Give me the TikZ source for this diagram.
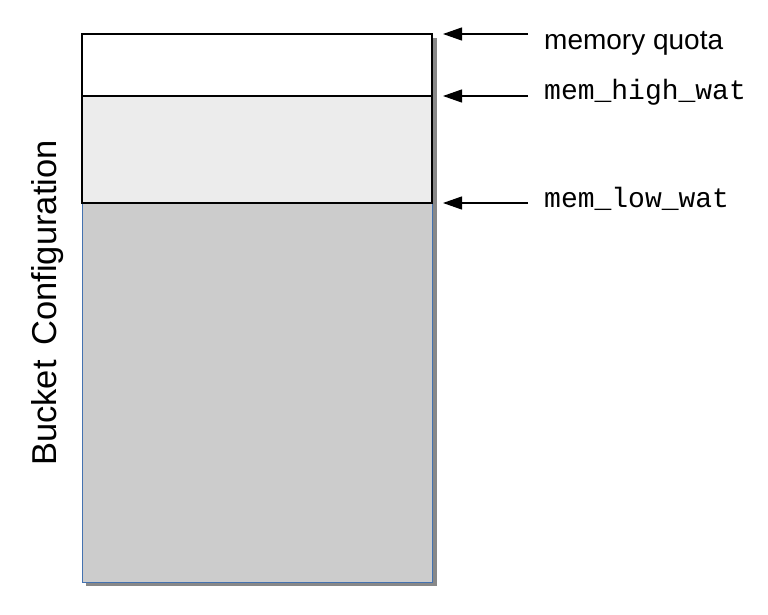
\documentclass[tikz,border=0pt]{standalone}
\usepackage{fontspec}
\setmainfont{Liberation Sans}
\setmonofont{Liberation Mono}
\usetikzlibrary{arrows.meta}
\definecolor{blueedge}{RGB}{68,114,176}
\definecolor{shadowgray}{RGB}{136,136,136}
\definecolor{lightfill}{RGB}{236,236,236}
\definecolor{midfill}{RGB}{204,204,204}
\begin{document}
\begin{tikzpicture}[x=1pt,y=-1pt,
  band/.style={draw=black,line width=1.4pt,minimum width=350pt,anchor=north west,inner sep=0pt,outer sep=0pt},
  pointer/.style={line width=1.2pt,-{Triangle[length=19pt,width=13pt]}},
  lbl/.style={anchor=base west,inner sep=0pt,font=\fontsize{28}{32}\selectfont},
  mono/.style={lbl,font=\fontsize{28}{32}\selectfont\ttfamily}]
\useasboundingbox (0,0) rectangle (768,615);
% shadow and outer box
\fill[shadowgray] (86,38) rectangle (437,586);
\node[draw=blueedge,fill=midfill,line width=1.4pt,minimum width=350pt,minimum height=548pt,anchor=north west,inner sep=0pt] (bucket) at (82,34) {};
\node[band,fill=white,minimum height=62pt] (quota) at (82,34) {};
\node[band,fill=lightfill,minimum height=107pt] (high) at (82,96) {};
% title
\node[rotate=90,anchor=base,inner sep=0pt,font=\fontsize{34.5}{38}\selectfont] (title) at (56.5,303) {Bucket\hspace{0.15em} Configuration};
% labels
\node[lbl] (lquota) at (544,50) {memory quota};
\node[mono] (lhigh) at (544,100) {mem\_high\_wat};
\node[mono] (llow) at (544,207) {mem\_low\_wat};
% arrow ends
\coordinate (tq) at (528,34);
\coordinate (hq) at (443,34);
\coordinate (th) at (528,96);
\coordinate (hh) at (443,96);
\coordinate (tl) at (528,203);
\coordinate (hl) at (443,203);
\draw[pointer] (tq) -- (hq);
\draw[pointer] (th) -- (hh);
\draw[pointer] (tl) -- (hl);
\end{tikzpicture}
\end{document}
